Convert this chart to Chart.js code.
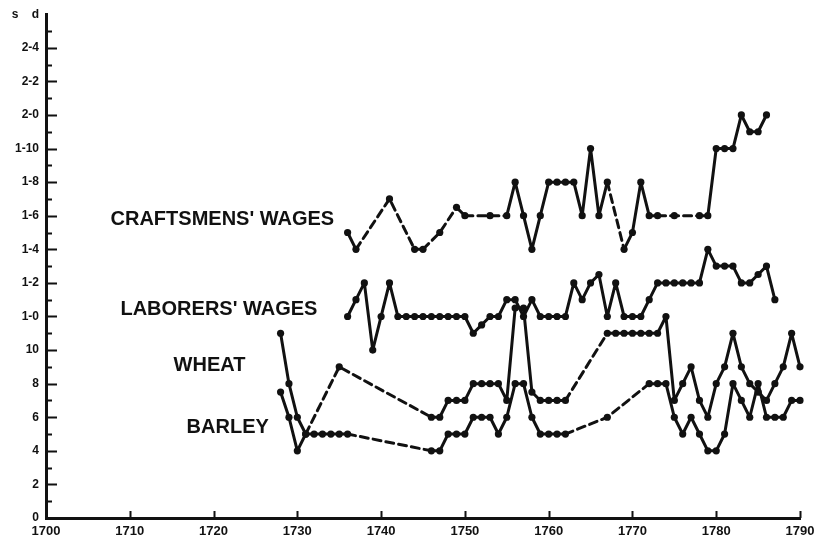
<!DOCTYPE html>
<html>
<head>
<meta charset="utf-8">
<script src="https://cdn.jsdelivr.net/npm/chart.js@4.4.1/dist/chart.umd.min.js"></script>
<style>
  html, body { margin: 0; padding: 0; background: #fff; }
  #wrap { width: 826px; height: 540px; }
</style>
</head>
<body>
<div id="wrap"><canvas id="wagesChart"></canvas></div>
<script>
// values in pence (12 pence = 1 shilling)
const craftYears = [1736, 1737, 1741, 1744, 1745, 1747, 1749, 1750, 1753, 1755, 1756, 1757, 1758, 1759, 1760, 1761, 1762, 1763, 1764, 1765, 1766, 1767, 1769, 1770, 1771, 1772, 1773, 1775, 1778, 1779, 1780, 1781, 1782, 1783, 1784, 1785, 1786];
const craftPence = [17, 16, 19, 16, 16, 17, 18.5, 18, 18, 18, 20, 18, 16, 18, 20, 20, 20, 20, 18, 22, 18, 20, 16, 17, 20, 18, 18, 18, 18, 18, 22, 22, 22, 24, 23, 23, 24];

const laborYears = [1736, 1737, 1738, 1739, 1740, 1741, 1742, 1743, 1744, 1745, 1746, 1747, 1748, 1749, 1750, 1751, 1752, 1753, 1754, 1755, 1756, 1757, 1758, 1759, 1760, 1761, 1762, 1763, 1764, 1765, 1766, 1767, 1768, 1769, 1770, 1771, 1772, 1773, 1774, 1775, 1776, 1777, 1778, 1779, 1780, 1781, 1782, 1783, 1784, 1785, 1786, 1787];
const laborPence = [12, 13, 14, 10, 12, 14, 12, 12, 12, 12, 12, 12, 12, 12, 12, 11, 11.5, 12, 12, 13, 13, 12, 13, 12, 12, 12, 12, 14, 13, 14, 14.5, 12, 14, 12, 12, 12, 13, 14, 14, 14, 14, 14, 14, 16, 15, 15, 15, 14, 14, 14.5, 15, 13];

const wheatYears = [1728, 1729, 1730, 1731, 1735, 1746, 1747, 1748, 1749, 1750, 1751, 1752, 1753, 1754, 1755, 1756, 1757, 1758, 1759, 1760, 1761, 1762, 1767, 1768, 1769, 1770, 1771, 1772, 1773, 1774, 1775, 1776, 1777, 1778, 1779, 1780, 1781, 1782, 1783, 1784, 1785, 1786, 1787, 1788, 1789, 1790];
const wheatPence = [11, 8, 6, 5, 9, 6, 6, 7, 7, 7, 8, 8, 8, 8, 7, 12.5, 12.5, 7.5, 7, 7, 7, 7, 11, 11, 11, 11, 11, 11, 11, 12, 7, 8, 9, 7, 6, 8, 9, 11, 9, 8, 7.5, 7, 8, 9, 11, 9];

const barleyYears = [1728, 1729, 1730, 1731, 1732, 1733, 1734, 1735, 1736, 1746, 1747, 1748, 1749, 1750, 1751, 1752, 1753, 1754, 1755, 1756, 1757, 1758, 1759, 1760, 1761, 1762, 1767, 1772, 1773, 1774, 1775, 1776, 1777, 1778, 1779, 1780, 1781, 1782, 1783, 1784, 1785, 1786, 1787, 1788, 1789, 1790];
const barleyPence = [7.5, 6, 4, 5, 5, 5, 5, 5, 5, 4, 4, 5, 5, 5, 6, 6, 6, 5, 6, 8, 8, 6, 5, 5, 5, 5, 6, 8, 8, 8, 6, 5, 6, 5, 4, 4, 5, 8, 7, 6, 8, 6, 6, 6, 7, 7];

const seriesNames = ["CRAFTSMENS' WAGES", "LABORERS' WAGES", 'WHEAT', 'BARLEY'];
const yearTicks = [1700, 1710, 1720, 1730, 1740, 1750, 1760, 1770, 1780, 1790];
const penceTicks = [0, 2, 4, 6, 8, 10, 12, 14, 16, 18, 20, 22, 24, 26, 28, 30];
const penceLabels = ['0', '2', '4', '6', '8', '10', '1-0', '1-2', '1-4', '1-6', '1-8', '1-10', '2-0', '2-2', '2-4', 's    d'];

const FONT = '"Liberation Sans", Arial, sans-serif';

function pairs(xs, ys) {
    return xs.map((x, i) => ({ x: x, y: ys[i] }));
}

// a gap of more than one year in the record is drawn dashed
function lineSet(xs, ys) {
    return {
        data: pairs(xs, ys),
        borderColor: '#111',
        borderWidth: 3,
        borderJoinStyle: 'round',
        borderCapStyle: 'round',
        pointRadius: 3.6,
        pointBackgroundColor: '#111',
        pointBorderWidth: 0,
        tension: 0,
        clip: false,
        segment: {
            borderDash: ctx => (ctx.p1.parsed.x - ctx.p0.parsed.x > 1 ? [8, 5] : undefined)
        }
    };
}

// name anchors: right end of the text, in (year, pence)
const nameAnchors = [[1734.4, 17.8], [1732.4, 12.4], [1723.8, 9.1], [1726.6, 5.4]];

const handDrawn = {
    id: 'handDrawn',
    afterDraw(chart) {
        const ctx = chart.ctx;
        const xs = chart.scales.x;
        const ys = chart.scales.y;
        const x0 = xs.left;
        const yb = ys.bottom;
        ctx.save();
        ctx.strokeStyle = '#111';
        ctx.lineWidth = 2;
        ctx.beginPath();
        for (let v = 1; v <= 29; v++) {
            const py = Math.round(ys.getPixelForValue(v)) + 0.5;
            const len = v % 2 === 0 ? 11 : 6;
            ctx.moveTo(x0, py);
            ctx.lineTo(x0 + len, py);
        }
        yearTicks.slice(1).forEach(yr => {
            const px = Math.round(xs.getPixelForValue(yr)) + 0.5;
            ctx.moveTo(px, yb);
            ctx.lineTo(px, yb - 7);
        });
        ctx.stroke();

        ctx.fillStyle = '#111';
        ctx.font = 'bold 20px ' + FONT;
        ctx.textAlign = 'right';
        ctx.textBaseline = 'middle';
        seriesNames.forEach((name, i) => {
            const a = nameAnchors[i];
            ctx.fillText(name, xs.getPixelForValue(a[0]), ys.getPixelForValue(a[1]));
        });
        ctx.restore();
    }
};

document.addEventListener('DOMContentLoaded', function () {
    let ctx = document.getElementById('wagesChart').getContext('2d');

    let myChart = new Chart(ctx, {
        type: 'line',
        data: {
            datasets: [
                lineSet(craftYears, craftPence),
                lineSet(laborYears, laborPence),
                lineSet(wheatYears, wheatPence),
                lineSet(barleyYears, barleyPence)
            ]
        },
        options: {
            responsive: true,
            maintainAspectRatio: false,
            animation: false,
            layout: { padding: { top: 13, right: 26, left: 0, bottom: 0 } },
            plugins: {
                legend: { display: false },
                tooltip: { enabled: false }
            },
            scales: {
                x: {
                    type: 'linear',
                    min: 1700,
                    max: 1790,
                    afterFit: s => { s.height = 22; },
                    afterBuildTicks: s => { s.ticks = yearTicks.map(v => ({ value: v })); },
                    grid: { drawOnChartArea: false, drawTicks: false },
                    border: { color: '#111', width: 3 },
                    ticks: {
                        padding: 6,
                        color: '#111',
                        maxRotation: 0,
                        autoSkip: false,
                        font: { family: FONT, size: 13, weight: 'bold' },
                        callback: v => String(v)
                    }
                },
                y: {
                    min: 0,
                    max: 30,
                    afterFit: s => { s.width = 46; },
                    afterBuildTicks: s => { s.ticks = penceTicks.map(v => ({ value: v })); },
                    grid: { drawOnChartArea: false, drawTicks: false },
                    border: { color: '#111', width: 3 },
                    ticks: {
                        padding: 7,
                        color: '#111',
                        autoSkip: false,
                        font: { family: FONT, size: 12, weight: 'bold' },
                        callback: v => penceLabels[penceTicks.indexOf(v)]
                    }
                }
            }
        },
        plugins: [handDrawn]
    });
});
</script>
</body>
</html>
